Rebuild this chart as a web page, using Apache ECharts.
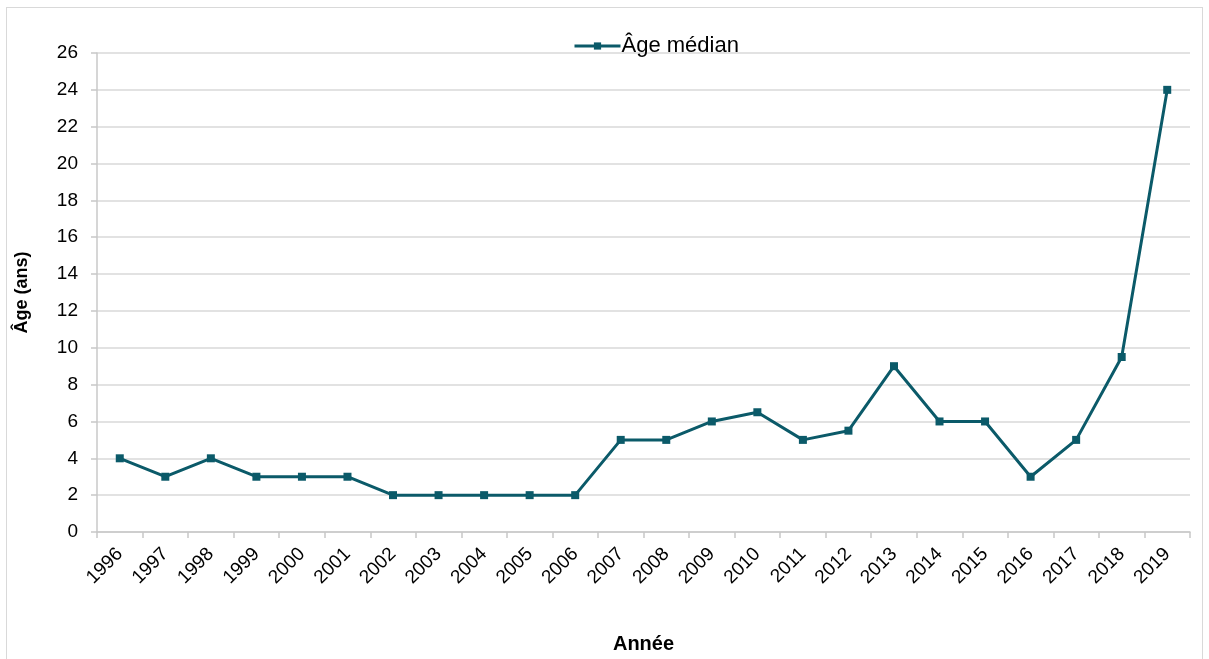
<!DOCTYPE html>
<html><head><meta charset="utf-8">
<script src="https://cdn.jsdelivr.net/npm/echarts@6/dist/echarts.min.js"></script>
<style>
html,body{margin:0;padding:0;background:#fff;}
#frame{position:absolute;left:6px;top:7px;width:1197px;height:660px;border:1px solid #d9d9d9;box-sizing:border-box;}
#chart{position:absolute;left:0;top:0;width:1209px;height:659px;}
</style></head>
<body>
<div id="frame"></div>
<div id="chart"></div>
<script>
const years = ['1996','1997','1998','1999','2000','2001','2002','2003','2004','2005','2006','2007','2008','2009','2010','2011','2012','2013','2014','2015','2016','2017','2018','2019'];
const medianAge = [4,3,4,3,3,3,2,2,2,2,2,5,5,6,6.5,5,5.5,9,6,6,3,5,9.5,24];
const seriesName = 'Âge médian';
const chart = echarts.init(document.getElementById('chart'));
const font = 'Liberation Sans, Arial, Helvetica, sans-serif';
const lineColor = '#0b5a69';
chart.setOption({
  animation:false,
  textStyle:{fontFamily:font},
  legend:{top:30,left:568,itemWidth:46,itemHeight:9,
    textStyle:{fontSize:22,color:'#000',fontFamily:font,padding:[0,0,0,-4]},
    data:[{name:seriesName,lineStyle:{width:3,color:lineColor},itemStyle:{color:lineColor}}]},
  grid:{left:97,right:19,top:53,bottom:126,containLabel:false},
  xAxis:{type:'category',data:years,boundaryGap:true,
    name:'Année',nameLocation:'middle',nameGap:102,
    nameTextStyle:{fontSize:20,fontWeight:'bold',color:'#000',fontFamily:font},
    axisLine:{lineStyle:{color:'#c8c8c8',width:1.5}},
    axisTick:{show:true,length:6,lineStyle:{color:'#c8c8c8',width:1.5},alignWithLabel:false},
    axisLabel:{rotate:45,fontSize:19,color:'#000',margin:19,interval:0,fontFamily:font}},
  yAxis:{type:'value',min:0,max:26,interval:2,
    name:'Âge (ans)',nameLocation:'middle',nameGap:66,
    nameTextStyle:{fontSize:18,fontWeight:'bold',color:'#000',fontFamily:font},
    axisLine:{show:true,lineStyle:{color:'#c8c8c8',width:1.5}},
    axisTick:{show:true,length:6,lineStyle:{color:'#c8c8c8',width:1.5}},
    axisLabel:{fontSize:19,color:'#000',margin:19,fontFamily:font},
    splitLine:{lineStyle:{color:'#d9d9d9',width:1.5}}},
  series:[{name:seriesName,type:'line',data:medianAge,
    symbol:'rect',symbolSize:8,
    lineStyle:{color:lineColor,width:3},
    itemStyle:{color:lineColor}}]
});
</script>
</body></html>
